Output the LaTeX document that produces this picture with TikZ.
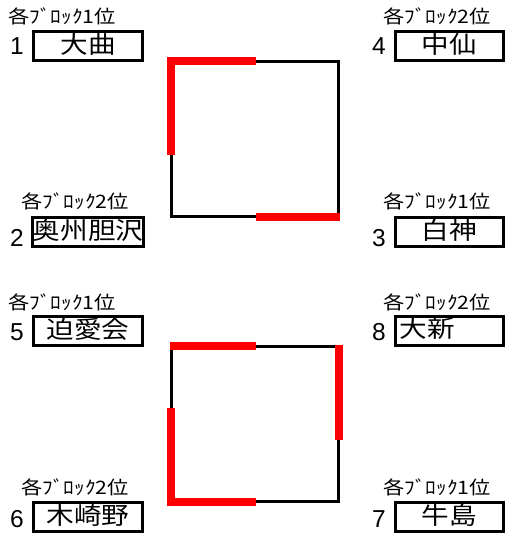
\documentclass[tikz,border=0pt]{standalone}
\usepackage{fontspec}
\setmainfont{Liberation Sans}
\newfontfamily\jp[FakeStretch=1.15]{Noto Sans CJK JP}
\begin{document}
\begin{tikzpicture}[x=1pt,y=-1pt,
  box/.style={draw=black,line width=3pt,minimum width=109pt,minimum height=29pt,
    inner sep=0pt,font=\jp\fontsize{24}{24}\selectfont,text height=19pt,text depth=5pt},
  rbox/.style={box,minimum width=108pt},
  lbox/.style={rbox,text width=100pt,align=left,inner xsep=4pt},
  seed/.style={anchor=base,font=\fontsize{24.5}{24.5}\selectfont,inner sep=0pt},
  blk/.style={anchor=base,font=\jp\fontsize{18.5}{18.5}\selectfont,inner sep=0pt},
  wire/.style={draw=black,line width=3pt},
  win/.style={draw=red,line width=8pt,line join=miter}]
\useasboundingbox (0,0) rectangle (506,535);
% top half
\node[blk] (l1) at (62,24) {各ﾌﾞﾛｯｸ1位};
\node[seed] (n1) at (17,55) {1};
\node[box] (b1) at (88,46) {大曲};
\node[blk] (l2) at (75,208) {各ﾌﾞﾛｯｸ2位};
\node[seed] (n2) at (17,246) {2};
\node[box] (b2) at (88,232) {奥州胆沢};
\node[blk] (l4) at (437,24) {各ﾌﾞﾛｯｸ2位};
\node[seed] (n4) at (379,55) {4};
\node[rbox] (b4) at (449.5,46) {中仙};
\node[blk] (l3) at (437,208) {各ﾌﾞﾛｯｸ1位};
\node[seed] (n3) at (379,246) {3};
\node[rbox] (b3) at (449.5,232) {白神};
% bottom half
\node[blk] (l5) at (62,309) {各ﾌﾞﾛｯｸ1位};
\node[seed] (n5) at (17,340) {5};
\node[box] (b5) at (88,331) {迫愛会};
\node[blk] (l6) at (75,494) {各ﾌﾞﾛｯｸ2位};
\node[seed] (n6) at (17,527) {6};
\node[box] (b6) at (88,517) {木崎野};
\node[blk] (l8) at (437,309) {各ﾌﾞﾛｯｸ2位};
\node[seed] (n8) at (379,340) {8};
\node[lbox] (b8) at (449.5,330.5) {大新};
\node[blk] (l7) at (437,494) {各ﾌﾞﾛｯｸ1位};
\node[seed] (n7) at (379,527) {7};
\node[rbox] (b7) at (449.5,517) {牛島};
% bracket 1
\coordinate (a1) at (171,61.5);
\coordinate (a2) at (338.5,61.5);
\coordinate (a3) at (338.5,216.5);
\coordinate (a4) at (171,216.5);
\coordinate (am) at (256,61.5);
\coordinate (av) at (171,155);
\coordinate (bm) at (256,217);
\coordinate (be) at (339.5,217);
\draw[wire] (a1) -- (a2) -- (a3) -- (a4) -- cycle;
\draw[win] (av) -- (a1) -- (am);
\draw[win] (bm) -- (be);
% bracket 2
\coordinate (c1) at (171,346);
\coordinate (c2) at (338.5,346);
\coordinate (c3) at (338.5,501.5);
\coordinate (c4) at (171,501.5);
\coordinate (cs) at (169.5,346);
\coordinate (cm) at (256,346);
\coordinate (cv) at (171,408);
\coordinate (cb) at (171,502);
\coordinate (cbm) at (256,502);
\coordinate (rt) at (339,344.5);
\coordinate (rb) at (339,440);
\draw[wire] (c1) -- (c2) -- (c3) -- (c4) -- cycle;
\draw[win] (cs) -- (cm);
\draw[win] (cv) -- (cb) -- (cbm);
\draw[win] (rt) -- (rb);
\end{tikzpicture}
\end{document}
